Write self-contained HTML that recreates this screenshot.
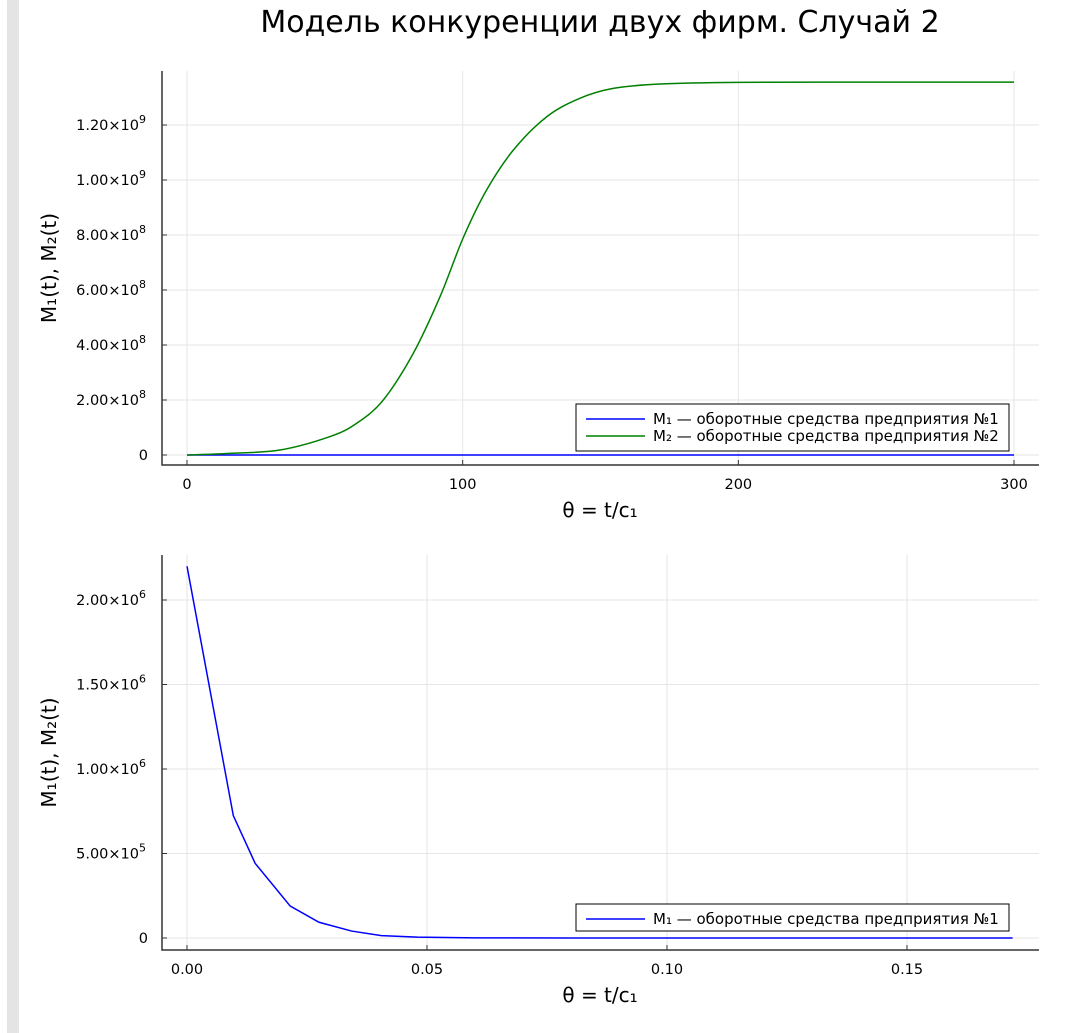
<!DOCTYPE html>
<html><head><meta charset="utf-8"><style>
body{margin:0;background:#fff;}
svg{display:block;font-family:"DejaVu Sans","Liberation Sans",sans-serif;}
</style></head><body>
<svg width="1073" height="1033" xmlns="http://www.w3.org/2000/svg">
<rect x="7" y="0" width="12" height="1033" fill="#e4e4e4"/>
<text x="600" y="32" font-size="30" text-anchor="middle" fill="#000">Модель конкуренции двух фирм. Случай 2</text>
<g id="top"></g>
<g id="bot"></g>
</svg>
<script>
const topT=[0,15.6,33.7,51.9,61.5,71.2,82.1,91.8,100.2,108.7,118.4,130.5,142.5,154.6,171.6,200,250,300];
const topM2=[0,0.006e9,0.018e9,0.067e9,0.115e9,0.2e9,0.37e9,0.576e9,0.79e9,0.964e9,1.109e9,1.23e9,1.297e9,1.333e9,1.349e9,1.355e9,1.356e9,1.356e9];
const topM1=[0,0,0,0,0,0,0,0,0,0,0,0,0,0,0,0,0,0];
const topXTicks=[0,100,200,300];
const topYTicks=[0,2e8,4e8,6e8,8e8,10e8,12e8];
const topYLabels=[["0",""],["2.00×10","8"],["4.00×10","8"],["6.00×10","8"],["8.00×10","8"],["1.00×10","9"],["1.20×10","9"]];
const botT=[0,0.00965,0.0142,0.0215,0.0275,0.0343,0.0405,0.048,0.06,0.08,0.1,0.13,0.172];
const botM1=[2.2e6,0.724e6,0.442e6,0.189e6,0.093e6,0.041e6,0.014e6,0.005e6,0.001e6,0,0,0,0];
const botXTicks=[0,0.05,0.1,0.15];
const botXLabels=["0.00","0.05","0.10","0.15"];
const botYTicks=[0,5e5,1e6,1.5e6,2e6];
const botYLabels=[["0",""],["5.00×10","5"],["1.00×10","6"],["1.50×10","6"],["2.00×10","6"]];
const NS="http://www.w3.org/2000/svg";
function mk(p,t,a){const e=document.createElementNS(NS,t);for(const k in a)e.setAttribute(k,a[k]);p.appendChild(e);return e;}
function smoothPath(pts){
  let d=`M${pts[0][0]},${pts[0][1]}`;
  for(let i=0;i<pts.length-1;i++){
    const p0=pts[Math.max(0,i-1)],p1=pts[i],p2=pts[i+1],p3=pts[Math.min(pts.length-1,i+2)];
    const c1=[p1[0]+(p2[0]-p0[0])/6,p1[1]+(p2[1]-p0[1])/6];
    const c2=[p2[0]-(p3[0]-p1[0])/6,p2[1]-(p3[1]-p1[1])/6];
    d+=`C${c1[0]},${c1[1]} ${c2[0]},${c2[1]} ${p2[0]},${p2[1]}`;
  }
  return d;
}
function plot(g,o){
  const sx=v=>o.x0+(v-o.xmin)*(o.x1-o.x0)/(o.xmax-o.xmin);
  const sy=v=>o.y0+(v-o.ymin)*(o.y1-o.y0)/(o.ymax-o.ymin);
  o.xt.forEach((v,i)=>{const l=mk(g,'line',{x1:sx(v),x2:sx(v),y1:o.top,y2:o.bottom,stroke:'#e6e6e6','stroke-width':1});
    
    const k=mk(g,'line',{x1:sx(v),x2:sx(v),y1:o.bottom,y2:o.bottom-5,stroke:'#333'});
    
    const t=mk(g,'text',{x:sx(v),y:o.bottom+24,'font-size':14.5,'text-anchor':'middle'});t.textContent=o.xl[i];
    });
  o.yt.forEach((v,i)=>{const l=mk(g,'line',{x1:o.left,x2:1039,y1:sy(v),y2:sy(v),stroke:'#e6e6e6','stroke-width':1});
    
    const k=mk(g,'line',{x1:o.left,x2:o.left+5,y1:sy(v),y2:sy(v),stroke:'#333'});
    
    const t=mk(g,'text',{x:o.yl[i][1]?o.left-16:o.left-14,y:sy(v)+5,'font-size':14.5,'text-anchor':'end'});
    
    t.textContent=o.yl[i][0];
    if(o.yl[i][1]){const s=mk(t,'tspan',{dy:-7,'font-size':11});s.textContent=o.yl[i][1];}});
  const ax=mk(g,'path',{d:`M${o.left},${o.top}V${o.bottom}H1039`,fill:'none',stroke:'#333','stroke-width':1.5});
  
  o.series.forEach(s=>{const pts=s.t.map((t,i)=>[sx(t),sy(s.v[i])]);
    const p=mk(g,'path',{d:s.smooth?smoothPath(pts):'M'+pts.map(q=>q.join(',')).join('L'),fill:'none',stroke:s.c,'stroke-width':1.5});
    });
  const xl=mk(g,'text',{x:600,y:o.bottom+52,'font-size':20,'text-anchor':'middle'});xl.textContent='θ = t/c₁';
  
  const cy=(o.top+o.bottom)/2;
  const yl=mk(g,'text',{x:56,y:cy,'font-size':20,'text-anchor':'middle',transform:`rotate(-90 56 ${cy})`});yl.textContent='M₁(t), M₂(t)';
  
  const lh=o.series.length*20+7;
  const lb=mk(g,'rect',{x:576,y:o.legY,width:433,height:lh,fill:'#fff',stroke:'#000','stroke-width':1});
  
  o.series.forEach((s,i)=>{const y=o.legY+15+i*17;
    const l=mk(g,'line',{x1:586,x2:645,y1:y,y2:y,stroke:s.c,'stroke-width':1.5});
    
    const t=mk(g,'text',{x:653,y:y+5,'font-size':15});t.textContent=s.label;
    });
}
plot(document.getElementById('top'),{x0:187,x1:1014,xmin:0,xmax:300,y0:455,y1:125,ymin:0,ymax:1.2e9,left:162,top:71,bottom:465,
  xt:topXTicks,xl:topXTicks.map(String),yt:topYTicks,yl:topYLabels,legY:404,
  series:[{t:topT,v:topM1,c:'#0000ff',name:'series-m1',label:'M₁ — оборотные средства предприятия №1'},
          {t:topT,v:topM2,c:'#008000',name:'series-m2',smooth:true,label:'M₂ — оборотные средства предприятия №2'}]});
plot(document.getElementById('bot'),{x0:187,x1:907,xmin:0,xmax:0.15,y0:938,y1:600,ymin:0,ymax:2e6,left:162,top:555,bottom:950,
  xt:botXTicks,xl:botXLabels,yt:botYTicks,yl:botYLabels,legY:904,
  series:[{t:botT,v:botM1,c:'#0000ff',name:'series-m1-zoom',label:'M₁ — оборотные средства предприятия №1'}]});
</script>
</body></html>
